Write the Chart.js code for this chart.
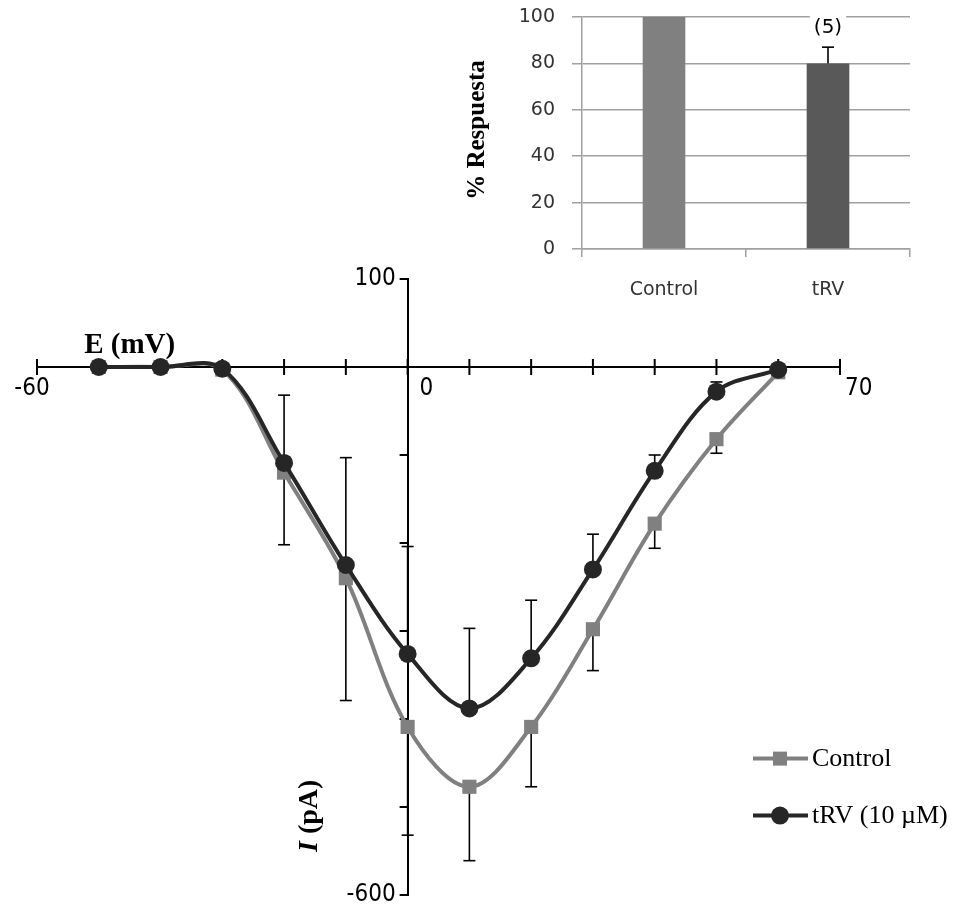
<!DOCTYPE html>
<html lang="es">
<head>
<meta charset="utf-8" />
<title>Curva I-E con tRV</title>
<script src="https://cdn.jsdelivr.net/npm/chart.js"></script>
<style>
    html, body { margin: 0; padding: 0; background: #fff; }
    #wrap { position: relative; width: 962px; height: 907px; }
    #main { position: absolute; left: 0; top: 0; }
    #inset { position: absolute; left: 440px; top: 0; }
</style>
</head>
<body>
<div id="wrap">
    <canvas id="main" width="962" height="907"></canvas>
    <canvas id="inset" width="522" height="310"></canvas>
</div>
<script>
// I-E curve (mV vs pA)
var voltages = [-50, -40, -30, -20, -10, 0, 10, 20, 30, 40, 50, 60];
var controlI = [0, 0, -3, -120, -240, -409, -477, -409, -298, -178, -82, -6];
var trvI = [0, 0, -2, -109, -225, -326, -388, -331, -230, -118, -28, -3];
var controlErrDown = [0, 0, 0, 82, 139, 123, 84, 68, 47, 28, 16, 0];
var trvErrUp = [0, 0, 0, 77, 122, 122, 91, 66, 40, 18, 11, 0];

var xTickValues = [-60, -50, -40, -30, -20, -10, 0, 10, 20, 30, 40, 50, 60, 70];
var yTickValues = [100, 0, -100, -200, -300, -400, -500, -600];
var xLabelValues = [-60, 0, 70];
var yLabelValues = [100, -600];

// inset bar chart
var groups = ['Control', 'tRV'];
var responsePct = [100, 80];
var responseErr = [0, 7];
var nLabels = ['', '(5)'];

var DARK = '#262626';
var GREY = '#808080';
var tickFont = "24px 'Liberation Sans Narrow', 'DejaVu Sans Condensed', 'Liberation Sans', sans-serif";
var serif = "'Liberation Serif', 'Times New Roman', serif";

function seg(ctx, x1, y1, x2, y2) {
    ctx.beginPath();
    ctx.moveTo(x1, y1);
    ctx.lineTo(x2, y2);
    ctx.stroke();
}

var mainDecor = {
    id: 'mainDecor',
    beforeDatasetsDraw: function (chart) {
        var ctx = chart.ctx, xs = chart.scales.x, ys = chart.scales.y;
        var y0 = ys.getPixelForValue(0), x0 = xs.getPixelForValue(0);
        ctx.save();
        ctx.strokeStyle = '#000';
        ctx.lineWidth = 2;
        xTickValues.forEach(function (v) {
            var px = xs.getPixelForValue(v);
            seg(ctx, px, y0 - 8, px, y0 + 8);
        });
        yTickValues.forEach(function (v) {
            var py = ys.getPixelForValue(v);
            seg(ctx, x0 - 8, py, x0, py);
        });

        // error bars: tRV upward, Control downward
        ctx.lineWidth = 1.6;
        voltages.forEach(function (v, i) {
            var px = xs.getPixelForValue(v);
            if (trvErrUp[i] > 0) {
                var a = ys.getPixelForValue(trvI[i]);
                var b = ys.getPixelForValue(trvI[i] + trvErrUp[i]);
                seg(ctx, px, a, px, b);
                seg(ctx, px - 6, b, px + 6, b);
            }
            if (controlErrDown[i] > 0) {
                var c = ys.getPixelForValue(controlI[i]);
                var d = ys.getPixelForValue(controlI[i] - controlErrDown[i]);
                seg(ctx, px, c, px, d);
                seg(ctx, px - 6, d, px + 6, d);
            }
        });
        ctx.restore();
    },
    afterDraw: function (chart) {
        var ctx = chart.ctx, xs = chart.scales.x, ys = chart.scales.y;
        var y0 = ys.getPixelForValue(0), x0 = xs.getPixelForValue(0);
        ctx.save();
        ctx.fillStyle = '#000';
        ctx.font = tickFont;
        ctx.textBaseline = 'middle';

        // x tick labels (Excel placed them a bit right of the ticks)
        xLabelValues.forEach(function (v) {
            var px = xs.getPixelForValue(v);
            if (v === 0) { ctx.textAlign = 'left'; px += 12; }
            else if (v === xs.min) { ctx.textAlign = 'center'; px -= 5; }
            else { ctx.textAlign = 'left'; px += 5; }
            ctx.fillText(String(v), px, y0 + 22);
        });
        ctx.textAlign = 'right';
        yLabelValues.forEach(function (v) {
            ctx.fillText(String(v), x0 - 12, ys.getPixelForValue(v));
        });

        // axis titles
        ctx.font = 'bold 29px ' + serif;
        ctx.textAlign = 'center';
        ctx.textBaseline = 'alphabetic';
        ctx.fillText('E (mV)', xs.getPixelForValue(-45), y0 - 14);

        ctx.save();
        ctx.translate(x0 - 91, ys.getPixelForValue(-510));
        ctx.rotate(-Math.PI / 2);
        ctx.textAlign = 'left';
        ctx.font = 'italic bold 28px ' + serif;
        var w1 = ctx.measureText('I').width;
        ctx.font = 'bold 28px ' + serif;
        var w2 = ctx.measureText(' (pA)').width;
        var sx = -(w1 + w2) / 2;
        ctx.font = 'italic bold 28px ' + serif;
        ctx.fillText('I', sx, 0);
        ctx.font = 'bold 28px ' + serif;
        ctx.fillText(' (pA)', sx + w1, 0);
        ctx.restore();

        // legend
        var items = [
            { text: 'Control', color: GREY, style: 'rect' },
            { text: 'tRV (10 \u00b5M)', color: DARK, style: 'circle' }
        ];
        var lx = chart.chartArea.right - 87, ly = ys.getPixelForValue(-445);
        ctx.font = '26px ' + serif;
        ctx.textAlign = 'left';
        ctx.textBaseline = 'middle';
        items.forEach(function (it, k) {
            var y = ly + k * 57;
            ctx.strokeStyle = it.color;
            ctx.fillStyle = it.color;
            ctx.lineWidth = 4;
            seg(ctx, lx, y, lx + 55, y);
            if (it.style === 'rect') {
                ctx.fillRect(lx + 20, y - 7, 14, 14);
            } else {
                ctx.beginPath();
                ctx.arc(lx + 27, y, 9, 0, Math.PI * 2);
                ctx.fill();
            }
            ctx.fillStyle = '#000';
            ctx.fillText(it.text, lx + 59, y + 1);
        });
        ctx.restore();
    }
};

new Chart(document.getElementById('main'), {
    type: 'scatter',
    data: {
        datasets: [
            {
                label: 'tRV (10 \u00b5M)',
                data: voltages.map(function (v, i) { return { x: v, y: trvI[i] }; }),
                showLine: true,
                borderColor: DARK,
                backgroundColor: DARK,
                borderWidth: 4,
                tension: 0.35,
                pointStyle: 'circle',
                pointRadius: 9,
                pointBorderWidth: 0,
                order: 0
            },
            {
                label: 'Control',
                data: voltages.map(function (v, i) { return { x: v, y: controlI[i] }; }),
                showLine: true,
                borderColor: GREY,
                backgroundColor: GREY,
                borderWidth: 4,
                tension: 0.35,
                pointStyle: 'rect',
                pointRadius: 10,
                pointBorderWidth: 0,
                order: 1
            }
        ]
    },
    options: {
        responsive: false,
        animation: false,
        devicePixelRatio: 1,
        layout: { padding: { left: 37, right: 122, top: 279, bottom: 12 } },
        plugins: { legend: { display: false }, tooltip: { enabled: false } },
        scales: {
            x: {
                type: 'linear',
                position: { y: 0 },
                min: -60,
                max: 70,
                grid: { display: false },
                ticks: { display: false, stepSize: 10 },
                border: { display: true, color: '#000', width: 2 }
            },
            y: {
                type: 'linear',
                position: { x: 0 },
                min: -600,
                max: 100,
                grid: { display: false },
                ticks: { display: false, stepSize: 100 },
                border: { display: true, color: '#000', width: 2 }
            }
        }
    },
    plugins: [mainDecor]
});

var insetDecor = {
    id: 'insetDecor',
    afterDatasetsDraw: function (chart) {
        var ctx = chart.ctx, xs = chart.scales.x, ys = chart.scales.y;
        ctx.save();
        groups.forEach(function (g, i) {
            var px = xs.getPixelForValue(i);
            if (responseErr[i] > 0) {
                var a = ys.getPixelForValue(responsePct[i]);
                var b = ys.getPixelForValue(responsePct[i] + responseErr[i]);
                ctx.strokeStyle = '#000';
                ctx.lineWidth = 1.6;
                seg(ctx, px, a, px, b);
                seg(ctx, px - 6, b, px + 6, b);
                if (nLabels[i]) {
                    ctx.font = "20px 'DejaVu Sans', sans-serif";
                    var w = ctx.measureText(nLabels[i]).width;
                    ctx.fillStyle = '#fff';
                    ctx.fillRect(px - w / 2 - 4, b - 32, w + 8, 26);
                    ctx.fillStyle = '#000';
                    ctx.textAlign = 'center';
                    ctx.textBaseline = 'middle';
                    ctx.fillText(nLabels[i], px, b - 19);
                }
            }
        });
        // y title
        ctx.translate(38, 130);
        ctx.rotate(-Math.PI / 2);
        ctx.font = 'bold 25px ' + serif;
        ctx.fillStyle = '#000';
        ctx.textAlign = 'center';
        ctx.textBaseline = 'middle';
        ctx.fillText('% Respuesta', 0, 0);
        ctx.restore();
    }
};

new Chart(document.getElementById('inset'), {
    type: 'bar',
    data: {
        labels: groups,
        datasets: [{
            data: responsePct,
            backgroundColor: [GREY, '#595959'],
            borderWidth: 0,
            barPercentage: 0.26,
            categoryPercentage: 1
        }]
    },
    options: {
        responsive: false,
        animation: false,
        devicePixelRatio: 1,
        layout: { padding: { left: 0, top: 17, right: 52, bottom: 0 } },
        plugins: { legend: { display: false }, tooltip: { enabled: false } },
        scales: {
            x: {
                grid: { display: true, drawOnChartArea: false, drawTicks: true, tickLength: 8, offset: true, color: '#a0a0a0', lineWidth: 1.5 },
                border: { color: '#a0a0a0', width: 1.5 },
                ticks: { font: { family: "'DejaVu Sans', sans-serif", size: 19 }, color: '#333', padding: 22 },
                afterFit: function (s) { s.height = 61; s.paddingLeft = 0; s.paddingRight = 0; }
            },
            y: {
                min: 0,
                max: 100,
                grid: { color: '#a0a0a0', lineWidth: 1.5, tickLength: 10 },
                border: { color: '#a0a0a0', width: 1.5 },
                ticks: { stepSize: 20, font: { family: "'DejaVu Sans', sans-serif", size: 19 }, color: '#333', padding: 17 },
                afterFit: function (s) { s.width = 142; s.paddingTop = 0; s.paddingBottom = 0; }
            }
        }
    },
    plugins: [insetDecor]
});
</script>
</body>
</html>
